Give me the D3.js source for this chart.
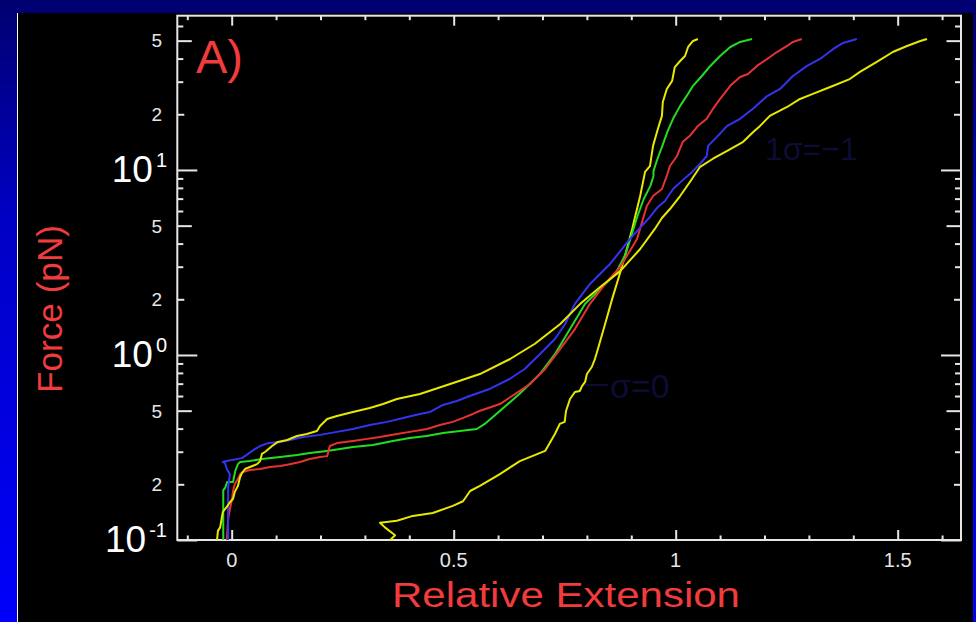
<!DOCTYPE html>
<html><head><meta charset="utf-8">
<script src="https://cdn.jsdelivr.net/npm/d3@7"></script>
<style>html,body{margin:0;padding:0;background:#000080;overflow:hidden}</style>
</head><body><svg id="c" width="976" height="622"></svg>
<script>
// ---- data (relative extension, force in pN) ----
const yellowSteepX=[0.357,0.368,0.345,0.334,0.372,0.408,0.453,0.498,0.521,0.537,0.559,0.604,0.649,0.706,0.728,0.739,0.750,0.753,0.762,0.773,0.784,0.789,0.796,0.800,0.811,0.818,0.825,0.841,0.857,0.874,0.890,0.902,0.909,0.920,0.931,0.942,0.949,0.960,0.969,0.971,0.980,0.992,0.998,1.010,1.021,1.028,1.039,1.050];
const yellowSteepF=[0.100,0.106,0.117,0.124,0.127,0.135,0.140,0.153,0.162,0.184,0.196,0.227,0.267,0.303,0.374,0.424,0.435,0.498,0.578,0.631,0.639,0.679,0.715,0.789,0.861,0.951,1.08,1.47,2.01,2.74,3.74,4.80,5.64,7.23,9.76,10.5,13.5,16.7,19.6,23.3,27.4,30.3,36.0,38.8,41.3,46.2,49.8,51.0];
const greenX=[-0.019,-0.019,-0.015,-0.010,0.003,0.008,0.014,0.019,0.041,0.068,0.109,0.147,0.176,0.214,0.244,0.273,0.318,0.363,0.401,0.439,0.476,0.514,0.552,0.570,0.648,0.694,0.728,0.762,0.796,0.830,0.864,0.887,0.914,0.928,0.943,0.950,0.950,0.959,0.970,0.981,0.994,1.010,1.028,1.039,1.059,1.078,1.100,1.123,1.145,1.172];
const greenF=[0.100,0.186,0.191,0.206,0.206,0.236,0.257,0.264,0.267,0.274,0.281,0.288,0.295,0.303,0.310,0.318,0.326,0.343,0.356,0.365,0.379,0.388,0.398,0.424,0.615,0.789,1.01,1.38,1.89,2.27,2.74,3.5,5.64,6.97,8.20,9.28,9.88,11.5,13.5,16.0,18.9,22.2,25.8,28.5,32.2,36.5,41.3,46.2,49.2,51.0];
const redX=[-0.011,-0.008,-0.004,0.001,0.003,0.007,0.014,0.019,0.025,0.041,0.064,0.086,0.109,0.131,0.154,0.176,0.199,0.215,0.221,0.237,0.273,0.305,0.334,0.372,0.401,0.440,0.469,0.498,0.520,0.543,0.558,0.604,0.638,0.672,0.706,0.740,0.773,0.807,0.841,0.875,0.913,0.935,0.949,0.969,0.980,0.987,1.003,1.016,1.032,1.050,1.070,1.084,1.100,1.123,1.145,1.163,1.183,1.206,1.228,1.251,1.264,1.284];
const redF=[0.100,0.130,0.147,0.167,0.184,0.201,0.214,0.227,0.233,0.239,0.242,0.248,0.251,0.257,0.264,0.274,0.281,0.284,0.322,0.334,0.343,0.352,0.360,0.374,0.384,0.398,0.418,0.435,0.456,0.480,0.498,0.543,0.615,0.697,0.840,1.08,1.38,1.89,2.42,2.99,4.24,6.39,7.23,7.89,9.28,10.5,11.9,14.2,15.3,17.3,18.9,21.4,24.2,28.5,31.8,33.0,36.5,39.8,43.4,46.8,49.2,51.0];
const blueX=[-0.008,-0.008,-0.004,-0.011,-0.015,-0.020,-0.011,0.001,0.023,0.037,0.052,0.064,0.082,0.109,0.131,0.161,0.199,0.237,0.273,0.311,0.350,0.386,0.424,0.447,0.476,0.507,0.536,0.581,0.626,0.660,0.694,0.728,0.751,0.773,0.807,0.852,0.897,0.942,0.960,0.976,0.994,1.014,1.037,1.055,1.070,1.073,1.093,1.116,1.145,1.174,1.206,1.235,1.264,1.296,1.325,1.355,1.377,1.408];
const blueF=[0.100,0.193,0.227,0.242,0.261,0.264,0.267,0.271,0.277,0.292,0.310,0.322,0.334,0.339,0.347,0.360,0.370,0.384,0.398,0.418,0.435,0.456,0.480,0.492,0.537,0.564,0.600,0.655,0.742,0.840,1.01,1.22,1.47,1.89,2.42,3.10,4.24,5.57,6.31,6.80,7.89,8.73,9.76,10.8,11.9,13.5,15.1,17.3,18.9,21.4,25.1,27.4,32.2,36.5,39.8,45.1,48.6,51.0];
const yellowWideX=[-0.033,-0.031,-0.026,-0.022,-0.020,-0.011,-0.004,0.003,0.007,0.014,0.019,0.023,0.030,0.041,0.057,0.064,0.068,0.075,0.091,0.104,0.125,0.147,0.169,0.192,0.199,0.215,0.237,0.273,0.311,0.341,0.372,0.424,0.492,0.559,0.627,0.683,0.740,0.785,0.830,0.875,0.920,0.953,0.969,0.987,1.010,1.032,1.055,1.084,1.116,1.152,1.174,1.190,1.212,1.251,1.280,1.309,1.348,1.392,1.415,1.453,1.489,1.521,1.551,1.566];
const yellowWideF=[0.100,0.112,0.117,0.133,0.142,0.151,0.160,0.167,0.182,0.196,0.219,0.230,0.242,0.248,0.257,0.267,0.292,0.299,0.322,0.339,0.347,0.365,0.374,0.388,0.413,0.451,0.468,0.492,0.517,0.543,0.578,0.615,0.697,0.789,0.951,1.15,1.47,1.89,2.33,2.84,3.74,4.80,5.50,6.15,7.23,8.61,10.4,11.5,12.7,14.2,16.0,17.3,19.6,21.9,24.2,25.8,28.1,31.0,33.9,38.4,43.4,46.8,49.8,51.0];

const xMajor=[0,0.5,1,1.5];
const xMajorLabels=["0","0.5","1","1.5"];
const xMinor=[-0.1,0.1,0.2,0.3,0.4,0.6,0.7,0.8,0.9,1.1,1.2,1.3,1.4,1.6];
const yDecades=[0.1,1,10];
const yDecadeExp=["-1","0","1"];
const yMid=[0.5,5,50];
const yMidLabels=["5","5","5"];
const yTwo=[0.2,2,20];
const yTwoLabels=["2","2","2"];
const yOther=[0.3,0.4,0.6,0.7,0.8,0.9,3,4,6,7,8,9,30,40,60];

const series=[
  {x:yellowSteepX,f:yellowSteepF,c:"#e8e800"},
  {x:greenX,f:greenF,c:"#22dd22"},
  {x:redX,f:redF,c:"#e83232"},
  {x:blueX,f:blueF,c:"#3434f0"},
  {x:yellowWideX,f:yellowWideF,c:"#e8e800"}
];

// ---- drawing ----
const svg=d3.select("#c");
const defs=svg.append("defs");
const g0=defs.append("linearGradient").attr("id","bg").attr("x1",0).attr("y1",0).attr("x2",0).attr("y2",1);
g0.append("stop").attr("offset","0%").attr("stop-color","#000070");
g0.append("stop").attr("offset","35%").attr("stop-color","#0000c4");
g0.append("stop").attr("offset","100%").attr("stop-color","#0000fa");
svg.append("rect").attr("width",976).attr("height",622).attr("fill","url(#bg)");
svg.append("rect").attr("x",17).attr("y",13).attr("width",956).attr("height",609).attr("fill","#000");
svg.append("line").attr("x1",17.5).attr("x2",17.5).attr("y1",13).attr("y2",622).attr("stroke","#ffffff").attr("stroke-width",1);

const L=177.3,R=961,T=15.7,B=540;
const x=d3.scaleLinear().domain([-0.1225,1.6426]).range([L,R]);
const y=d3.scaleLog().domain([0.1,68.2]).range([B,T]);

const axCol="#e6e6e6";
function styleAxis(g){g.selectAll("path,line").attr("stroke",axCol).attr("stroke-width",2);g.selectAll("text").remove();}
svg.append("rect").attr("x",L).attr("y",T).attr("width",R-L).attr("height",B-T).attr("fill","none").attr("stroke",axCol).attr("stroke-width",2);
[[xMajor,10],[xMinor,4.5]].forEach(([v,s])=>{
  svg.append("g").attr("transform",`translate(0,${B})`).call(d3.axisTop(x).tickValues(v).tickSize(s).tickSizeOuter(0)).call(styleAxis).select(".domain").remove();
  svg.append("g").attr("transform",`translate(0,${T})`).call(d3.axisBottom(x).tickValues(v).tickSize(s).tickSizeOuter(0)).call(styleAxis).select(".domain").remove();
});
[[yDecades,20],[yMid,14.5],[yTwo,7],[yOther,6]].forEach(([v,s])=>{
  svg.append("g").attr("transform",`translate(${L},0)`).call(d3.axisRight(y).tickValues(v).tickSize(s).tickSizeOuter(0)).call(styleAxis).select(".domain").remove();
  svg.append("g").attr("transform",`translate(${R},0)`).call(d3.axisLeft(y).tickValues(v).tickSize(s).tickSizeOuter(0)).call(styleAxis).select(".domain").remove();
});

const font="'Liberation Sans', Arial, sans-serif";
svg.append("g").selectAll("text").data(xMajor).join("text")
  .attr("x",d=>x(d)).attr("y",567).attr("text-anchor","middle")
  .attr("font-family",font).attr("font-size",20).attr("fill","#e6e6e6")
  .text((d,i)=>xMajorLabels[i]);
svg.append("g").selectAll("text").data(yMid.map((v,i)=>[v,yMidLabels[i]]).concat(yTwo.map((v,i)=>[v,yTwoLabels[i]]))).join("text")
  .attr("x",162).attr("y",d=>y(d[0])).attr("dy","0.36em").attr("text-anchor","end")
  .attr("font-family",font).attr("font-size",19).attr("fill","#e6e6e6").text(d=>d[1]);
const dl=svg.append("g").selectAll("text").data(yDecades).join("text")
  .attr("x",167).attr("y",d=>y(d)+12).attr("text-anchor","end")
  .attr("font-family",font).attr("fill","#ffffff");
dl.append("tspan").attr("font-size",37).text("10");
dl.append("tspan").attr("font-size",20).attr("dx",3).attr("dy",-15).text((d,i)=>yDecadeExp[i]);

// faint annotations (drawn beneath curves)
const faint="#0c0c34";
svg.append("line").attr("x1",585).attr("x2",608).attr("y1",385).attr("y2",385).attr("stroke",faint).attr("stroke-width",2);
svg.append("text").attr("x",610).attr("y",398).attr("font-family",font).attr("font-size",34).attr("fill",faint).text("σ=0");
svg.append("text").attr("x",765).attr("y",160).attr("font-family",font).attr("font-size",32).attr("fill",faint).text("1σ=−1");

const line=d3.line().x(d=>x(d[0])).y(d=>y(d[1]));
svg.append("g").selectAll("path").data(series).join("path")
  .attr("d",s=>line(s.x.map((v,i)=>[v,s.f[i]])))
  .attr("fill","none").attr("stroke",s=>s.c).attr("stroke-width",2).attr("stroke-linejoin","round");

svg.append("text").attr("x",196).attr("y",73).attr("font-family",font).attr("font-size",47).attr("fill","#f03c3c").text("A)");
svg.append("text").attr("x",392).attr("y",607).attr("textLength",348).attr("lengthAdjust","spacingAndGlyphs")
  .attr("font-family",font).attr("font-size",35).attr("fill","#f03c3c").text("Relative Extension");
svg.append("text").attr("transform","translate(62,393) rotate(-90)").attr("textLength",168).attr("lengthAdjust","spacingAndGlyphs")
  .attr("font-family",font).attr("font-size",35).attr("fill","#f03c3c").text("Force  (pN)");
</script></body></html>
